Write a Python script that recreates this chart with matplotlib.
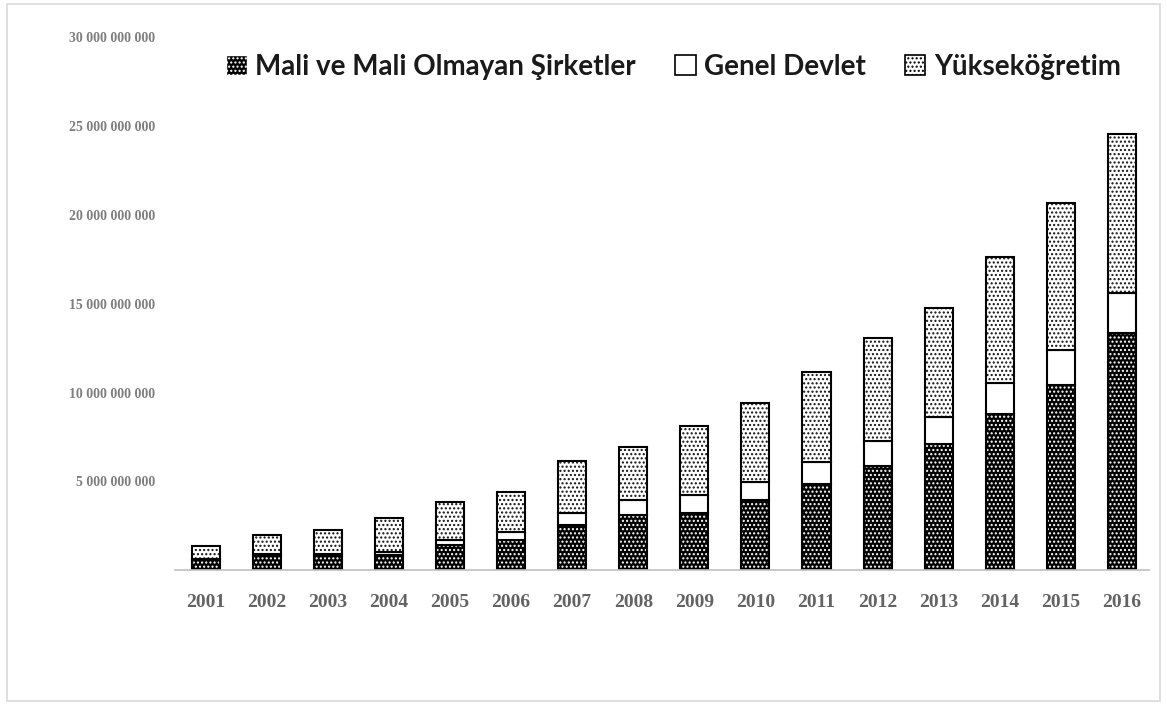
import matplotlib
matplotlib.use("Agg")
import matplotlib.pyplot as plt
import matplotlib.patches as mpatches
import numpy as np

years = ["2001", "2002", "2003", "2004", "2005", "2006", "2007", "2008",
         "2009", "2010", "2011", "2012", "2013", "2014", "2015", "2016"]
mali = [0.55e9, 0.80e9, 0.80e9, 0.85e9, 1.40e9, 1.69e9, 2.53e9, 3.10e9,
        3.22e9, 3.94e9, 4.88e9, 5.87e9, 7.09e9, 8.78e9, 10.41e9, 13.32e9]
genel = [0.10e9, 0.10e9, 0.10e9, 0.15e9, 0.28e9, 0.45e9, 0.68e9, 0.84e9,
         1.00e9, 1.03e9, 1.22e9, 1.41e9, 1.54e9, 1.73e9, 1.97e9, 2.29e9]
yuksek = [0.70e9, 1.07e9, 1.35e9, 1.95e9, 2.14e9, 2.25e9, 2.92e9, 3.00e9,
          3.88e9, 4.43e9, 5.04e9, 5.78e9, 6.15e9, 7.09e9, 8.26e9, 8.96e9]
series_names = ["Mali ve Mali Olmayan Şirketler", "Genel Devlet", "Yükseköğretim"]
yticks = [0, 5e9, 10e9, 15e9, 20e9, 25e9, 30e9]

plt.rcParams['hatch.linewidth'] = 1.0

fig = plt.figure(figsize=(11.67, 7.04), dpi=100)
ax = fig.add_axes([0.15, 0.19, 0.835, 0.7574])

x = np.arange(len(years))
w = 0.46
mali_a = np.array(mali)
genel_a = np.array(genel)
yuk_a = np.array(yuksek)

# bottom: black with white dots
ax.bar(x, mali_a, w, color="black", edgecolor="white", hatch="....", linewidth=0)
ax.bar(x, mali_a, w, fill=False, edgecolor="black", linewidth=1.5)
# middle: white
ax.bar(x, genel_a, w, bottom=mali_a, color="white", edgecolor="black", linewidth=1.5)
# top: white with black dots
ax.bar(x, yuk_a, w, bottom=mali_a + genel_a, color="white", edgecolor="#111111",
       hatch="....", linewidth=0)
ax.bar(x, yuk_a, w, bottom=mali_a + genel_a, fill=False, edgecolor="black", linewidth=1.5)

ax.set_xlim(-0.5, 15.45)
ax.set_ylim(0, 30e9)
ax.set_xticks(x)
ax.set_xticklabels(years, fontfamily="Liberation Serif", fontweight="bold",
                   fontsize=14, color="#636363")
ax.set_yticks(yticks)
ax.set_yticklabels(["" if v == 0 else f"{int(v):,}".replace(",", " ") for v in yticks],
                   fontfamily="Liberation Serif", fontweight="bold", fontsize=10,
                   color="#7f7f7f")
ax.tick_params(axis="both", length=0)
ax.tick_params(axis="x", pad=17)
ax.tick_params(axis="y", pad=14)
for s in ["top", "right", "left"]:
    ax.spines[s].set_visible(False)
ax.spines["bottom"].set_color("#bfbfbf")
ax.spines["bottom"].set_linewidth(1.2)

h1 = mpatches.Patch(facecolor="black", edgecolor="white", hatch="....")
h2 = mpatches.Patch(facecolor="white", edgecolor="black", linewidth=1.2)
h3 = mpatches.Patch(facecolor="white", edgecolor="black", hatch="....", linewidth=1.2)
leg = fig.legend([h1, h2, h3], series_names, loc="center", bbox_to_anchor=(0.577, 0.905),
                 ncol=3, frameon=False, handlelength=0.75, handleheight=0.75,
                 handletextpad=0.3, columnspacing=1.4,
                 prop={"family": "Lato", "weight": "bold", "size": 20})
for t in leg.get_texts():
    t.set_color("#1a1a1a")

fig.patches.append(mpatches.Rectangle((0.006, 0.004), 0.988, 0.99, transform=fig.transFigure,
                                      fill=False, edgecolor="#d9d9d9", linewidth=1.2))

fig.savefig("out.png", dpi=100)
